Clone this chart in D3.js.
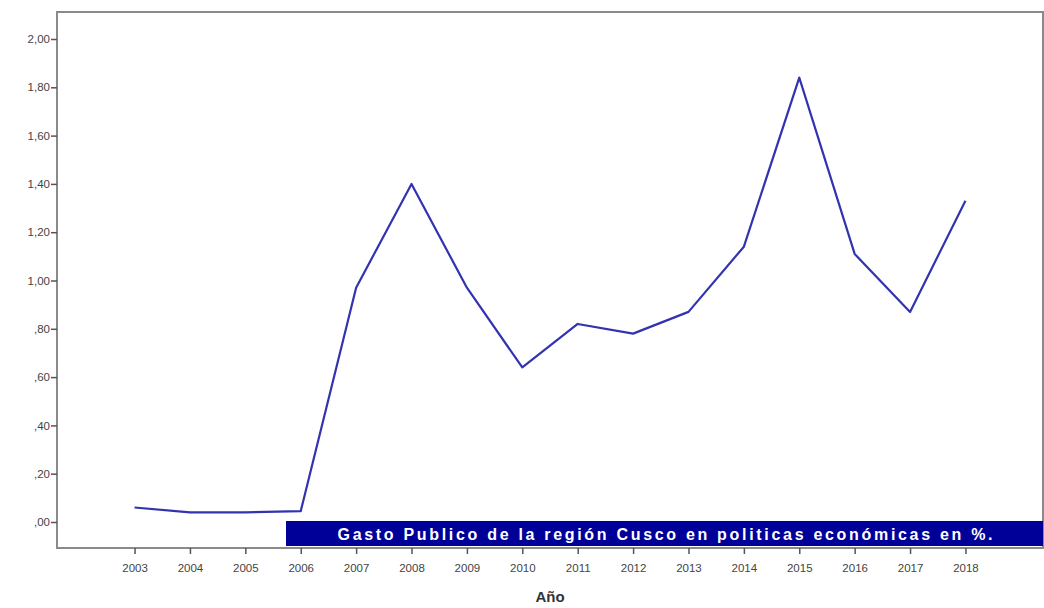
<!DOCTYPE html>
<html>
<head>
<meta charset="utf-8">
<script src="https://cdn.jsdelivr.net/npm/d3@7"></script>
<style>
  body { margin: 0; background: #fff; }
  svg { display: block; font-family: "Liberation Sans", Arial, sans-serif; }
</style>
</head>
<body>
<svg width="1044" height="608"></svg>
<script>
const years = ["2003", "2004", "2005", "2006", "2007", "2008", "2009", "2010",
               "2011", "2012", "2013", "2014", "2015", "2016", "2017", "2018"];
const gasto = [0.06, 0.04, 0.04, 0.045, 0.97, 1.40, 0.97, 0.64,
               0.82, 0.78, 0.87, 1.14, 1.84, 1.11, 0.87, 1.33];
const yTicks = [0, 0.2, 0.4, 0.6, 0.8, 1.0, 1.2, 1.4, 1.6, 1.8, 2.0];
const legendLabel = "Gasto Publico de la región Cusco en politicas económicas  en %.";
const xTitle = "Año";

const svg = d3.select("svg");
const plotLeft = 57, plotRight = 1043, plotTop = 12, plotBottom = 548;

const x = d3.scalePoint()
    .domain(years)
    .range([plotLeft, plotRight])
    .padding(1.4);

const y = d3.scaleLinear()
    .domain([0, 2])
    .range([522, 39]);

// SPSS style: ",20" and "1,20"
const fmt = v => {
    const s = v.toFixed(2).replace(".", ",");
    return s.startsWith("0") ? s.slice(1) : s;
};

// frame
svg.append("rect")
    .attr("x", plotLeft).attr("y", plotTop)
    .attr("width", plotRight - plotLeft).attr("height", plotBottom - plotTop)
    .attr("fill", "none")
    .attr("stroke", "#8a8a8a")
    .attr("stroke-width", 2);

// y axis
const yAxis = svg.append("g")
    .attr("transform", `translate(${plotLeft},0)`)
    .call(d3.axisLeft(y).tickValues(yTicks).tickFormat(fmt).tickSize(6).tickSizeOuter(0));
yAxis.select(".domain").remove();
yAxis.selectAll("line").attr("stroke", "#555").attr("stroke-width", 1.5);
yAxis.selectAll("text").attr("fill", "#444").attr("font-size", 11.5).attr("dx", 2);

// x axis
const xAxis = svg.append("g")
    .attr("transform", `translate(0,${plotBottom})`)
    .call(d3.axisBottom(x).tickSize(6).tickSizeOuter(0));
xAxis.select(".domain").remove();
xAxis.selectAll("line").attr("stroke", "#555").attr("stroke-width", 1.5);
xAxis.selectAll("text").attr("fill", "#444").attr("font-size", 11.5).attr("dy", "1.3em");

svg.append("text")
    .attr("x", 550).attr("y", 602)
    .attr("text-anchor", "middle")
    .attr("font-size", 15)
    .attr("font-weight", "bold")
    .attr("fill", "#333")
    .text(xTitle);

// line
const line = d3.line()
    .x((d, i) => x(years[i]))
    .y(d => y(d));

svg.append("path")
    .datum(gasto)
    .attr("d", line)
    .attr("fill", "none")
    .attr("stroke", "#3333b0")
    .attr("stroke-width", 2.2)
    .attr("stroke-linejoin", "round");

// legend band
svg.append("rect")
    .attr("x", 286).attr("y", 521)
    .attr("width", plotRight - 286).attr("height", 25)
    .attr("fill", "#000099");

svg.append("text")
    .attr("x", 665).attr("y", 540)
    .attr("text-anchor", "middle")
    .attr("font-size", 16)
    .attr("font-weight", "bold")
    .attr("fill", "#fff")
    .attr("textLength", 655)
    .attr("lengthAdjust", "spacing")
    .text(legendLabel);
</script>
</body>
</html>
